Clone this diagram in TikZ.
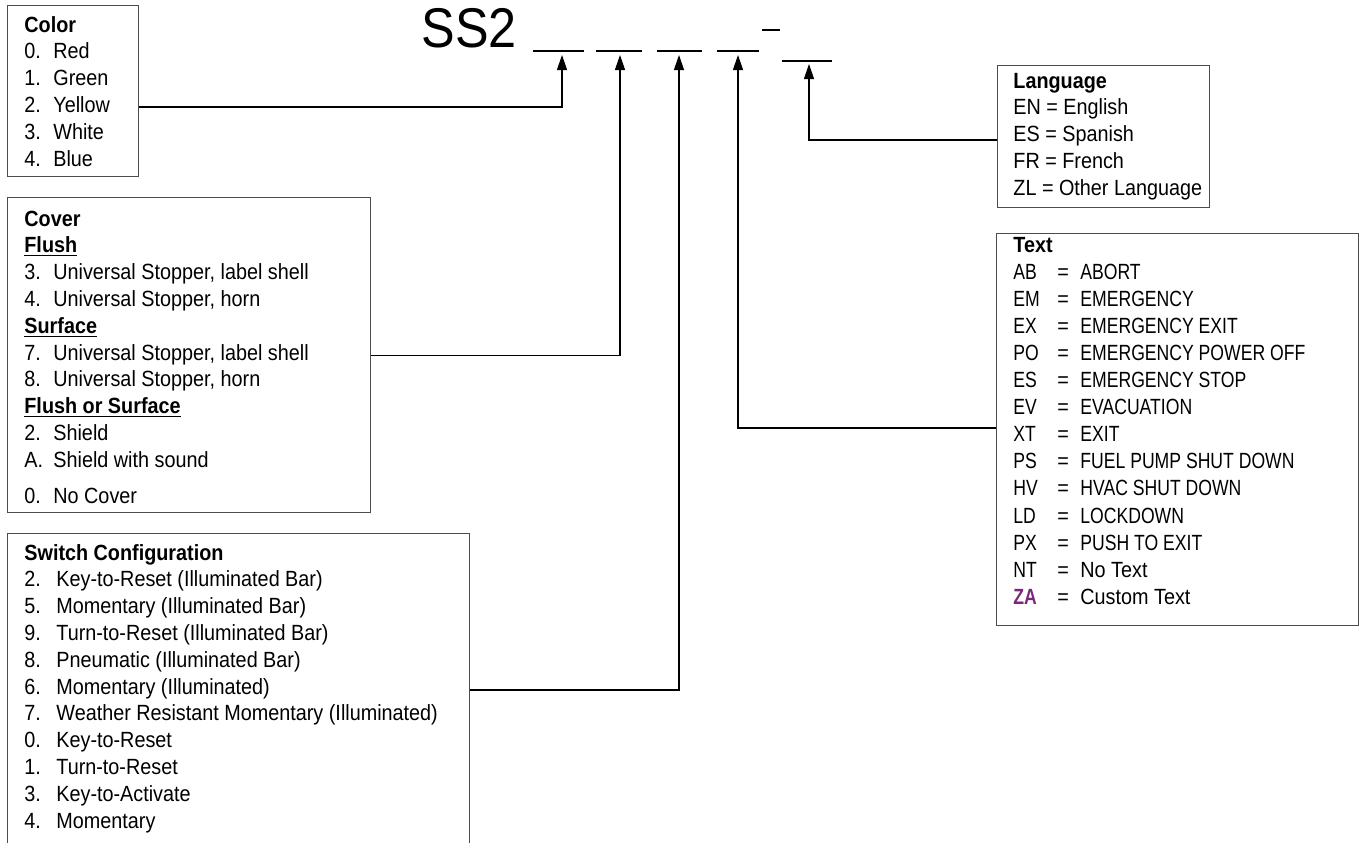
\documentclass[tikz,border=0pt]{standalone}
\usepackage{fontspec}
\setmainfont{Liberation Sans}[FakeStretch=0.9]
\newfontfamily\capfont{Liberation Sans}[FakeStretch=0.8]
\usetikzlibrary{arrows.meta}
\definecolor{zapurple}{RGB}{125,38,125}
\newcommand{\nr}[2]{\makebox[14.5pt][l]{#1}#2}
\newcommand{\sw}[2]{\makebox[16pt][l]{#1}#2}
\newcommand{\tm}[2]{\makebox[22pt][l]{\capfont#1}\makebox[11.5pt][l]{=}#2}
\newcommand{\tc}[2]{\tm{#1}{{\capfont#2}}}

\tikzset{
  box/.style={draw=black!70, line width=0.6pt, anchor=north west, inner sep=0pt},
  list/.style={anchor=base west, inner sep=0pt, font=\fontsize{11}{13.4}\selectfont},
  conn/.style={line width=0.6pt, -{Triangle[length=7.5pt,width=5pt]}},
  slot/.style={line width=1.4pt},
}

\begin{document}
\begin{tikzpicture}[x=0.5pt,y=-0.5pt]
\useasboundingbox (0,0) rectangle (1359,842);
\clip (0,0) rectangle (1359,842);

\node[anchor=base west, inner sep=0pt, font=\fontsize{28}{30}\selectfont] (ss2) at (421,47) {SS2};
\foreach \a/\b/\y in {533/584/51, 596/642/51, 657/702/51, 717/759/51, 782/832/61}
  \draw[slot] (\a,\y) -- (\b,\y);
\draw[line width=1.4pt] (762,30) -- (780,30);

\coordinate (s1) at (562,55);
\coordinate (s2) at (620,55);
\coordinate (s3) at (679,55);
\coordinate (s4) at (738,55);
\coordinate (s5) at (809,64);

\node[box, minimum width=65.5pt, minimum height=85.5pt] (colorbox) at (7,5) {};
\node[list] (colortxt) at (24,32) {\begin{tabular}[t]{@{}l@{}}
\textbf{Color}\\
\nr{0.}{Red}\\
\nr{1.}{Green}\\
\nr{2.}{Yellow}\\
\nr{3.}{White}\\
\nr{4.}{Blue}
\end{tabular}};

\node[box, minimum width=181.5pt, minimum height=157.5pt] (coverbox) at (7,197) {};
\node[list] (covertxt) at (24,226) {\begin{tabular}[t]{@{}l@{}}
\textbf{Cover}\\
\textbf{\underline{Flush}}\\
\nr{3.}{Universal Stopper, label shell}\\
\nr{4.}{Universal Stopper, horn}\\
\textbf{\underline{Surface}}\\
\nr{7.}{Universal Stopper, label shell}\\
\nr{8.}{Universal Stopper, horn}\\
\textbf{\underline{Flush or Surface}}\\
\nr{2.}{Shield}\\
\nr{A.}{Shield with sound}\\[4.5pt]
\nr{0.}{No Cover}
\end{tabular}};

\node[box, minimum width=231pt, minimum height=165pt] (switchbox) at (7,533) {};
\node[list] (switchtxt) at (24,560) {\begin{tabular}[t]{@{}l@{}}
\textbf{Switch Configuration}\\
\sw{2.}{Key-to-Reset (Illuminated Bar)}\\
\sw{5.}{Momentary (Illuminated Bar)}\\
\sw{9.}{Turn-to-Reset (Illuminated Bar)}\\
\sw{8.}{Pneumatic (Illuminated Bar)}\\
\sw{6.}{Momentary (Illuminated)}\\
\sw{7.}{Weather Resistant Momentary (Illuminated)}\\
\sw{0.}{Key-to-Reset}\\
\sw{1.}{Turn-to-Reset}\\
\sw{3.}{Key-to-Activate}\\
\sw{4.}{Momentary}
\end{tabular}};

\node[box, minimum width=106pt, minimum height=71pt] (langbox) at (997,65) {};
\node[list] (langtxt) at (1013,88) {\begin{tabular}[t]{@{}l@{}}
\textbf{Language}\\
EN = English\\
ES = Spanish\\
FR = French\\
ZL = Other Language
\end{tabular}};

\node[box, minimum width=181pt, minimum height=196pt] (textbox) at (996,233) {};
\node[list, font=\fontsize{11}{13.55}\selectfont] (texttxt) at (1013,252) {\begin{tabular}[t]{@{}l@{}}
\textbf{Text}\\
\tc{AB}{ABORT}\\
\tc{EM}{EMERGENCY}\\
\tc{EX}{EMERGENCY EXIT}\\
\tc{PO}{EMERGENCY POWER OFF}\\
\tc{ES}{EMERGENCY STOP}\\
\tc{EV}{EVACUATION}\\
\tc{XT}{EXIT}\\
\tc{PS}{FUEL PUMP SHUT DOWN}\\
\tc{HV}{HVAC SHUT DOWN}\\
\tc{LD}{LOCKDOWN}\\
\tc{PX}{PUSH TO EXIT}\\
\tm{NT}{No Text}\\
\tm{\bfseries\color{zapurple}ZA}{Custom Text}
\end{tabular}};

\coordinate (colory) at (0,107);
\coordinate (switchy) at (0,690);
\coordinate (langy) at (0,140);
\coordinate (texty) at (0,428);

\draw[conn] (colorbox.east |- colory) -| (s1);
\draw[conn] (coverbox.east) -| (s2);
\draw[conn] (switchbox.east |- switchy) -| (s3);
\draw[conn] (textbox.west |- texty) -| (s4);
\draw[conn] (langbox.west |- langy) -| (s5);
\end{tikzpicture}
\end{document}
